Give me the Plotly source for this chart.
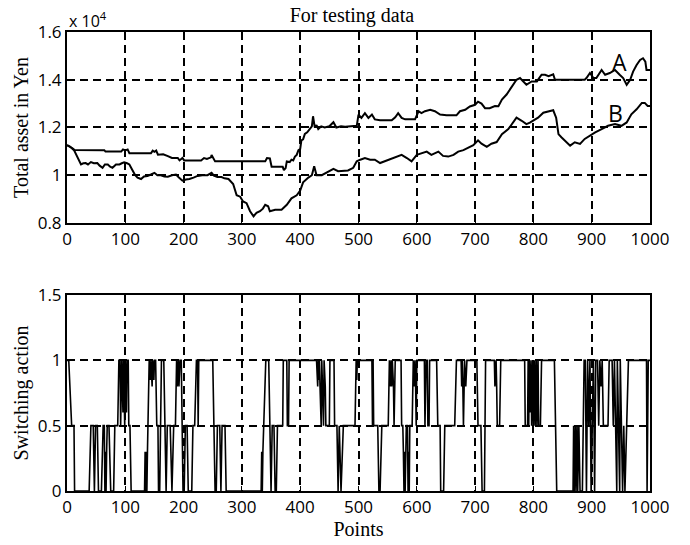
import plotly.graph_objects as go
from plotly.subplots import make_subplots

# ---- data (top panel, units of 10^4 Yen) ----
a_x = [0,5,10,13,40,64,66,93,96,100,104,107,144,147,150,153,156,165,173,180,190,193,198,201,230,235,240,247,248,251,254,340,343,348,351,370,372,375,377,382,385,388,391,394,397,400,402,405,408,412,417,420,422,425,428,431,436,442,450,457,462,470,477,494,497,500,505,511,517,523,528,537,557,563,568,574,580,597,603,608,614,623,631,640,651,668,674,683,691,700,705,711,717,725,734,740,746,754,763,771,777,783,788,797,806,814,820,826,834,837,888,891,897,903,908,917,923,931,940,948,954,960,966,971,977,983,988,992,994,1000]
a_y = [1.126,1.12,1.112,1.106,1.106,1.105,1.099,1.099,1.108,1.104,1.108,1.092,1.092,1.103,1.098,1.103,1.086,1.088,1.08,1.072,1.072,1.062,1.072,1.062,1.062,1.072,1.068,1.075,1.085,1.072,1.058,1.058,1.072,1.07,1.035,1.035,1.021,1.03,1.058,1.055,1.065,1.062,1.078,1.085,1.105,1.11,1.146,1.15,1.173,1.18,1.193,1.205,1.247,1.2,1.21,1.193,1.205,1.2,1.205,1.222,1.2,1.205,1.203,1.205,1.207,1.254,1.24,1.26,1.24,1.254,1.234,1.23,1.23,1.243,1.26,1.24,1.234,1.234,1.268,1.26,1.268,1.274,1.268,1.254,1.251,1.251,1.268,1.274,1.288,1.295,1.308,1.3,1.281,1.281,1.29,1.289,1.317,1.338,1.372,1.4,1.407,1.393,1.379,1.393,1.393,1.421,1.421,1.415,1.423,1.4,1.4,1.407,1.428,1.407,1.407,1.441,1.421,1.428,1.441,1.421,1.407,1.379,1.4,1.434,1.462,1.483,1.49,1.476,1.441,1.441]

b_x = [0,5,12,18,24,28,32,36,41,46,52,56,61,65,70,74,78,84,90,94,98,103,107,113,117,121,127,132,138,144,150,155,161,167,173,180,187,192,198,204,210,217,224,232,241,248,252,258,265,270,277,285,291,297,302,308,314,320,325,331,336,340,345,348,357,368,377,385,394,400,405,414,420,424,428,437,448,457,465,482,491,497,503,511,520,528,537,545,554,565,574,583,591,600,608,617,625,637,645,654,663,671,680,688,697,705,711,720,728,737,746,757,765,771,780,788,794,800,808,817,826,834,839,843,848,854,863,871,880,888,897,906,917,928,940,951,960,968,977,986,991,996,1000]
b_y = [1.126,1.12,1.105,1.078,1.045,1.05,1.051,1.045,1.055,1.05,1.051,1.04,1.031,1.045,1.045,1.036,1.031,1.045,1.045,1.05,1.054,1.05,1.045,1.018,1.0,0.99,0.984,0.995,0.997,1.003,1.01,1.0,1.0,0.995,0.994,1.0,1.003,0.99,0.977,0.982,0.984,0.99,0.997,1.0,1.0,1.01,0.998,0.992,0.992,0.987,0.984,0.963,0.916,0.91,0.89,0.883,0.849,0.828,0.842,0.849,0.86,0.876,0.87,0.849,0.855,0.855,0.876,0.903,0.916,0.936,0.97,0.99,1.0,1.038,1.0,1.0,1.013,1.027,1.017,1.02,1.031,1.058,1.065,1.072,1.065,1.065,1.051,1.058,1.068,1.078,1.085,1.072,1.058,1.085,1.092,1.099,1.085,1.099,1.081,1.078,1.085,1.099,1.105,1.116,1.126,1.146,1.132,1.119,1.132,1.139,1.172,1.193,1.22,1.241,1.228,1.214,1.22,1.228,1.241,1.262,1.269,1.272,1.241,1.172,1.159,1.145,1.124,1.138,1.131,1.152,1.166,1.179,1.193,1.207,1.214,1.207,1.221,1.255,1.276,1.303,1.303,1.29,1.29]

# ---- data (bottom panel, switching action) ----
sw_x = [0,3,8,12,13,38,41,45,47,49,52,54,59,62,64,65,66,67,68,69,72,75,80,82,87,89,91,92,94,96,97,99,100,102,103,105,106,108,110,
        133,134,135,136,137,138,141,143,144,146,147,149,150,152,154,156,157,159,162,166,168,170,172,177,180,183,186,188,189,191,192,194,196,198,199,201,203,206,208,
        214,216,219,222,224,225,226,250,252,254,256,258,262,264,266,271,273,333,334,335,336,341,346,348,350,352,355,357,359,361,370,371,377,378,380,381,428,430,431,432,433,434,436,437,438,440,441,443,444,450,451,458,459,463,465,467,470,474,494,496,497,498,
        523,524,525,526,533,535,537,540,551,553,555,556,557,558,560,561,563,573,574,576,577,578,579,580,582,584,585,586,587,588,592,594,596,597,598,599,600,613,614,616,618,619,621,622,634,636,640,641,644,646,648,665,668,676,677,678,679,680,682,684,686,700,703,705,710,712,716,718,733,734,736,737,738,742,744,785,786,790,
        791,792,793,794,796,797,799,800,802,803,805,806,808,809,812,814,836,840,868,869,870,872,873,875,876,878,880,884,887,889,891,893,895,897,899,901,903,905,907,910,912,914,916,918,920,928,930,935,937,939,941,943,944,946,948,949,951,953,955,957,960,963,994,995,997,1000]
sw_y = [1,1,0.5,0.5,0,0,0.5,0.5,0,0.5,0.5,0,0,0.5,0.5,0,0.3,0,0.3,0.5,0.5,0,0,0.5,0.5,1,1,0.5,1,0.6,1,0.5,1,0.6,1,1,0.5,0.5,0,
        0,0.3,0,0.3,0,0.3,1,0.85,1,0.8,1,0.85,1,1,0.5,0.5,0,0,1,1,0.5,0,0.5,0.5,0,0.5,0.5,1,0.8,1,0.8,1,1,0.5,0,0,0.5,0.5,0,
        0,0.5,0.5,1,1,0.5,1,1,0.5,0,0,0.5,0.5,0,0.5,0.5,0,0,0.3,0,0.3,1,1,0.5,0,0.5,0.5,0,0,0.5,0.5,1,1,0.5,0.5,1,1,0.8,1,0.85,1,0.8,0.5,1,0.85,0.5,1,0.8,0.5,0.5,1,1,0.5,0.5,0,0.5,0,0.5,0.5,1,0.85,1,
        1,0.5,1,0.5,0.5,0,0,0.5,0.5,1,0.8,1,0.8,1,0.8,0.5,1,1,0.5,0.5,0.3,0,0.3,0,0.5,0.5,0,0.3,0,0.5,0.5,1,0.8,1,0.8,0.5,1,1,0.5,1,1,0.5,0.5,1,1,0.5,0.5,0,0,0,0.5,0.5,1,1,0.8,1,0.8,0.5,1,0.8,1,1,1,0.5,0.5,0,0,1,1,0.8,1,0.8,0.5,0.5,1,1,0.5,0.5,
        1,0.5,1,0.6,1,0.5,1,0.5,1,0.5,1,0.5,1,0.5,0.5,1,1,0,0,0.5,0,0.5,0,0.5,0,0.5,0,0,1,1,0,1,0.5,1,0,0.5,1,0,1,1,0.5,1,0.8,1,0.5,0.5,1,1,0.5,1,0.5,0,1,0.5,0,1,0.5,0,0.5,0,0.5,1,1,0,1,1]

x_ticks = [0,100,200,300,400,500,600,700,800,900,1000]
top_ticks = [0.8,1,1.2,1.4,1.6]
bot_ticks = [0,0.5,1,1.5]

SANS = "Open Sans"
SERIF = "Liberation Serif"
BLACK = "#000000"

fig = make_subplots(rows=2, cols=1, vertical_spacing=0.0)

fig.add_trace(go.Scatter(x=a_x, y=a_y, mode="lines", line=dict(color=BLACK, width=2), showlegend=False), row=1, col=1)
fig.add_trace(go.Scatter(x=b_x, y=b_y, mode="lines", line=dict(color=BLACK, width=2), showlegend=False), row=1, col=1)
fig.add_trace(go.Scatter(x=sw_x, y=sw_y, mode="lines", line=dict(color=BLACK, width=1.6), showlegend=False), row=2, col=1)

axis_common = dict(
    showline=True, linecolor=BLACK, linewidth=2, mirror=True,
    showgrid=True, gridcolor=BLACK, gridwidth=1.8, griddash="8px,5px",
    zeroline=False, ticks="inside", ticklen=5, tickcolor=BLACK,
    tickfont=dict(family=SANS, size=17, color=BLACK),
)

fig.update_xaxes(range=[0, 1000], tickvals=x_ticks, ticktext=[str(v) for v in x_ticks], **axis_common)
fig.update_yaxes(**axis_common)

TFONT = dict(family=SERIF, size=20, color=BLACK)
fig.update_layout(
    xaxis=dict(domain=[0, 1], anchor="y"),
    xaxis2=dict(domain=[0, 1], anchor="y2",
                title=dict(text="Points", font=TFONT, standoff=0)),
    yaxis=dict(domain=[0.584, 1.0], range=[0.8, 1.6], tickvals=top_ticks,
               ticktext=["0.8", "1", "1.2", "1.4", "1.6"],
               title=dict(text="Total asset in Yen", font=TFONT, standoff=4)),
    yaxis2=dict(domain=[0.0, 0.427], range=[0, 1.5], tickvals=bot_ticks,
                ticktext=["0", "0.5", "1", "1.5"],
                title=dict(text="Switching action", font=TFONT, standoff=4)),
    width=690, height=545,
    margin=dict(l=67, r=40, t=32, b=54),
    paper_bgcolor="white", plot_bgcolor="white",
    title=dict(text="For testing data", x=0.51, xanchor="center", y=0.972, yanchor="middle",
               font=TFONT),
)

fig.add_annotation(x=948, y=1.474, xref="x", yref="y", text="A", showarrow=False,
                   font=dict(family=SANS, size=23, color=BLACK))
fig.add_annotation(x=941, y=1.262, xref="x", yref="y", text="B", showarrow=False,
                   font=dict(family=SANS, size=23, color=BLACK))
fig.add_annotation(x=0.0, y=1.0, xref="paper", yref="paper", text="x 10<sup>4</sup>",
                   showarrow=False, xanchor="left", yanchor="bottom", yshift=-2,
                   font=dict(family=SANS, size=16, color=BLACK))

fig.write_html("out.html")
